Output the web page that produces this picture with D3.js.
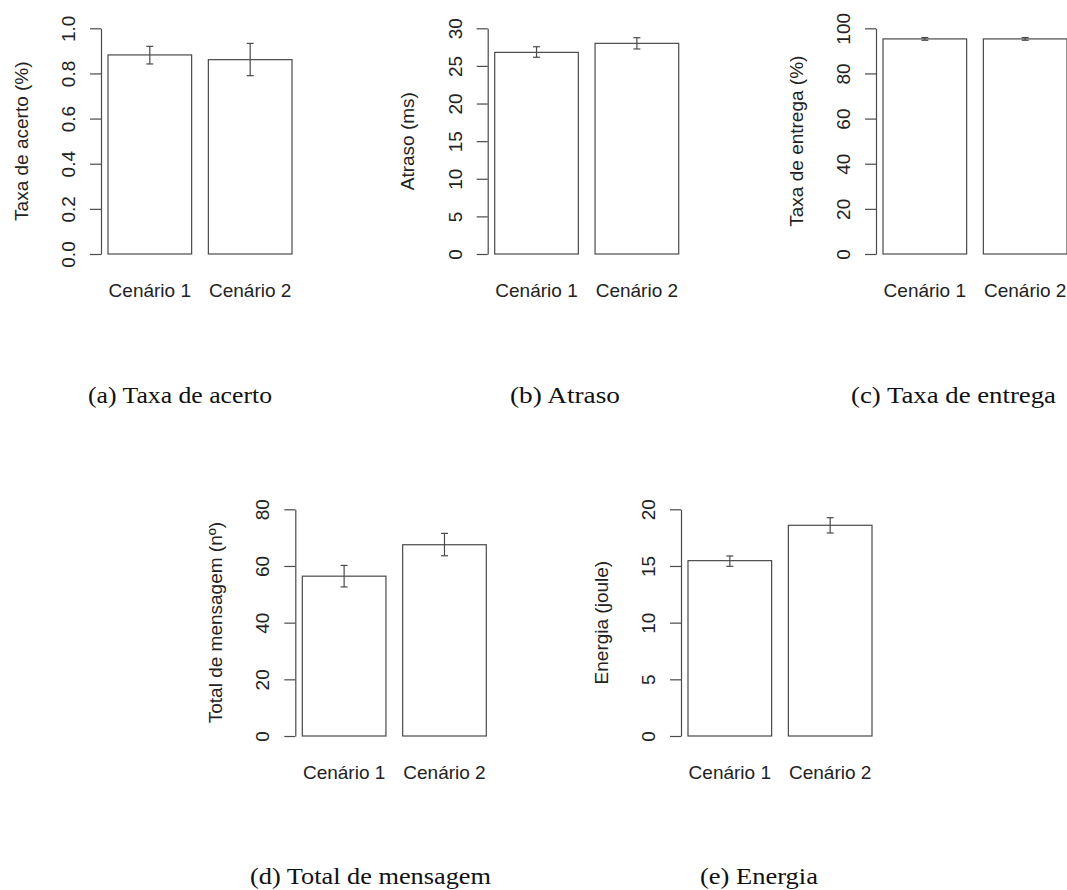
<!DOCTYPE html>
<html>
<head>
<meta charset="utf-8">
<script src="https://cdn.jsdelivr.net/npm/d3@7"></script>
<style>
  html, body { margin: 0; padding: 0; background: #fff; }
  svg { display: block; }
</style>
</head>
<body>
<div id="fig"></div>
<script>
// ==========================
// Data
// ==========================
const scenarios = ["Cenário 1", "Cenário 2"];

const acertoMean = [0.882, 0.861];
const acertoLow = [0.842, 0.790];
const acertoHigh = [0.920, 0.933];
const acertoTicks = [0, 0.2, 0.4, 0.6, 0.8, 1.0];

const atrasoMean = [26.8, 28.0];
const atrasoLow = [26.15, 27.25];
const atrasoHigh = [27.55, 28.75];
const atrasoTicks = [0, 5, 10, 15, 20, 25, 30];

const entregaMean = [95.3, 95.3];
const entregaLow = [94.7, 94.7];
const entregaHigh = [95.9, 95.9];
const entregaTicks = [0, 20, 40, 60, 80, 100];

const mensagemMean = [56.4, 67.5];
const mensagemLow = [52.6, 63.6];
const mensagemHigh = [60.2, 71.5];
const mensagemTicks = [0, 20, 40, 60, 80];

const energiaMean = [15.47, 18.59];
const energiaLow = [14.97, 17.91];
const energiaHigh = [15.88, 19.26];
const energiaTicks = [0, 5, 10, 15, 20];

const yTitles = ["Taxa de acerto (%)", "Atraso (ms)", "Taxa de entrega (%)", "Total de mensagem (nº)", "Energia (joule)"];
const captions = ["(a) Taxa de acerto", "(b) Atraso", "(c) Taxa de entrega", "(d) Total de mensagem", "(e) Energia"];

// ==========================
// Layout
// ==========================
const width = 1067;
const height = 890;

const rows = [
    { top: 28.3, bottom: 254, labelY: 297, captionY: 403 },
    { top: 509.3, bottom: 736, labelY: 778.5, captionY: 884 }
];

const panels = [
    { mean: acertoMean, low: acertoLow, high: acertoHigh, ticks: acertoTicks, fmt: d3.format(".1f"), axisX: 101, row: 0, capX: 88, capLen: 184 },
    { mean: atrasoMean, low: atrasoLow, high: atrasoHigh, ticks: atrasoTicks, fmt: d3.format("d"), axisX: 487.7, row: 0, capX: 510, capLen: 110 },
    { mean: entregaMean, low: entregaLow, high: entregaHigh, ticks: entregaTicks, fmt: d3.format("d"), axisX: 876, row: 0, capX: 851, capLen: 205 },
    { mean: mensagemMean, low: mensagemLow, high: mensagemHigh, ticks: mensagemTicks, fmt: d3.format("d"), axisX: 295.3, row: 1, capX: 250, capLen: 241 },
    { mean: energiaMean, low: energiaLow, high: energiaHigh, ticks: energiaTicks, fmt: d3.format("d"), axisX: 681, row: 1, capX: 700, capLen: 118 }
];

const lineColor = "#4a4a4a";
const textColor = "#222";
const sansFont = "'Liberation Sans', Arial, Helvetica, sans-serif";
const serifFont = "'Liberation Serif', 'Times New Roman', serif";

const svg = d3.select("#fig").append("svg")
    .attr("width", width)
    .attr("height", height)
    .attr("viewBox", `0 0 ${width} ${height}`);

// ==========================
// Panels
// ==========================
panels.forEach((p, i) => {
    const row = rows[p.row];
    const g = svg.append("g");

    const yScale = d3.scaleLinear()
        .domain([0, d3.max(p.ticks)])
        .range([row.bottom, row.top]);

    const xScale = d3.scaleBand()
        .domain(scenarios)
        .range([p.axisX + 7, p.axisX + 191])
        .paddingInner(1 / 6)
        .paddingOuter(0);

    // y axis (R style: line from first to last tick, labels rotated)
    const yAxis = g.append("g")
        .attr("transform", `translate(${p.axisX},0)`)
        .call(d3.axisLeft(yScale)
            .tickValues(p.ticks)
            .tickSize(11)
            .tickSizeOuter(0)
            .tickFormat(p.fmt));

    yAxis.select(".domain")
        .attr("stroke", lineColor)
        .attr("stroke-width", 1.2);

    yAxis.selectAll(".tick line")
        .attr("stroke", lineColor)
        .attr("stroke-width", 1.2);

    yAxis.selectAll(".tick text")
        .attr("x", null)
        .attr("dy", null)
        .attr("transform", "translate(-26,0) rotate(-90)")
        .attr("text-anchor", "middle")
        .style("font-family", sansFont)
        .style("font-size", "19px")
        .style("fill", textColor);

    yAxis.attr("font-size", null).attr("font-family", null);

    // bars
    g.selectAll(".bar")
        .data(scenarios)
        .enter()
        .append("rect")
        .attr("class", "bar")
        .attr("x", d => xScale(d))
        .attr("y", (d, j) => yScale(p.mean[j]))
        .attr("width", xScale.bandwidth())
        .attr("height", (d, j) => yScale(0) - yScale(p.mean[j]))
        .attr("fill", "#fff")
        .attr("stroke", lineColor)
        .attr("stroke-width", 1.2);

    // error bars
    const cap = 3.5;
    scenarios.forEach((s, j) => {
        const cx = xScale(s) + xScale.bandwidth() / 2;
        const yl = yScale(p.low[j]);
        const yh = yScale(p.high[j]);
        const eg = g.append("g")
            .attr("stroke", lineColor)
            .attr("stroke-width", 1.2);
        eg.append("line").attr("x1", cx).attr("x2", cx).attr("y1", yl).attr("y2", yh);
        eg.append("line").attr("x1", cx - cap).attr("x2", cx + cap).attr("y1", yl).attr("y2", yl);
        eg.append("line").attr("x1", cx - cap).attr("x2", cx + cap).attr("y1", yh).attr("y2", yh);
    });

    // category labels
    g.selectAll(".cat")
        .data(scenarios)
        .enter()
        .append("text")
        .attr("class", "cat")
        .attr("x", d => xScale(d) + xScale.bandwidth() / 2)
        .attr("y", row.labelY)
        .attr("text-anchor", "middle")
        .style("font-family", sansFont)
        .style("font-size", "19px")
        .style("fill", textColor)
        .text(d => d);

    // y title
    const midY = (row.top + row.bottom) / 2;
    g.append("text")
        .attr("transform", `translate(${p.axisX - 73.5},${midY}) rotate(-90)`)
        .attr("text-anchor", "middle")
        .style("font-family", sansFont)
        .style("font-size", "19px")
        .style("fill", textColor)
        .text(yTitles[i]);

    // caption
    svg.append("text")
        .attr("x", p.capX)
        .attr("y", row.captionY)
        .attr("textLength", p.capLen)
        .attr("lengthAdjust", "spacingAndGlyphs")
        .style("font-family", serifFont)
        .style("font-size", "23px")
        .style("fill", "#111")
        .text(captions[i]);
});
</script>
</body>
</html>
